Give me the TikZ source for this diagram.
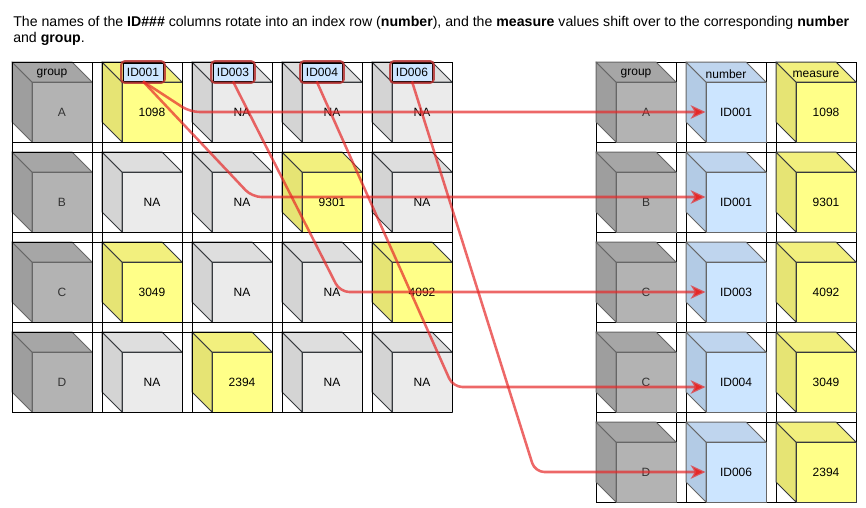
\documentclass[tikz,border=0pt]{standalone}
\usepackage{fontspec}
\setmainfont{Liberation Sans}
\usetikzlibrary{fit}
\usetikzlibrary{arrows.meta}

\definecolor{grpfront}{HTML}{B3B3B3}
\definecolor{grptop}{HTML}{A6A6A6}
\definecolor{grpside}{HTML}{9E9E9E}
\definecolor{grpedge}{HTML}{666666}
\definecolor{grptext}{HTML}{333333}
\definecolor{nafront}{HTML}{EBEBEB}
\definecolor{natop}{HTML}{DEDEDE}
\definecolor{naside}{HTML}{D4D4D4}
\definecolor{naedge}{HTML}{36393D}
\definecolor{natext}{HTML}{000000}
\definecolor{valfront}{HTML}{FFFF88}
\definecolor{valtop}{HTML}{F2F07E}
\definecolor{valside}{HTML}{E6E474}
\definecolor{valedge}{HTML}{36393D}
\definecolor{valtext}{HTML}{000000}
\definecolor{numfront}{HTML}{CCE5FF}
\definecolor{numtop}{HTML}{BFD5EE}
\definecolor{numside}{HTML}{B3CBE5}
\definecolor{numedge}{HTML}{666666}
\definecolor{numtext}{HTML}{000000}
\definecolor{arrowred}{HTML}{E62828}
\definecolor{markred}{HTML}{B83232}

\newcommand{\cubefont}{\fontsize{9}{11}\selectfont}

% cube: x, y, kind, name, top text, face text
\newcommand{\datacube}[6]{%
    \begin{scope}[shift={(#1,#2)}]
        \filldraw[cubeedge, draw=#3edge, fill=#3side] (0,0) -- (20,20) -- (20,80) -- (0,60) -- cycle;
        \filldraw[cubeedge, draw=#3edge, fill=#3top] (0,0) -- (60,0) -- (80,20) -- (20,20) -- cycle;
        \node[cubeface, draw=#3edge, fill=#3front, text=#3text] (#4) at (50,50) {#6};
        \node[toplabel] (#4top) at (40,12) {#5};
    \end{scope}
}

\tikzset{
    cubeedge/.style={line width=0.75pt, line join=round},
    cubeface/.style={line width=0.75pt, minimum width=45pt, minimum height=45pt, inner sep=0pt, font=\cubefont},
    toplabel/.style={inner sep=0pt, font=\cubefont},
    gridline/.style={draw=black, line width=0.75pt},
    idbox/.style={draw=black, fill=numfront, line width=0.6pt, minimum width=30pt, minimum height=13.5pt, inner sep=0pt, font=\cubefont},
    idmark/.style={draw=markred, draw opacity=0.85, line width=1.6pt, rounded corners=2.5pt, inner sep=1pt},
    flow/.style={draw=arrowred, draw opacity=0.7, line width=1.9pt, rounded corners=7pt, -{Stealth[length=11pt, width=10pt, inset=3pt]}},
    caption/.style={align=left, inner sep=0pt, font=\fontsize{10.6}{12}\selectfont}
}

\begin{document}
\begin{tikzpicture}[x=0.75pt, y=-0.75pt]
    \useasboundingbox (0,0) rectangle (866,507);

    \node[caption, anchor=north west] (title) at (13,16) {The names of the \textbf{ID\#\#\#} columns rotate into an index row (\textbf{number}), and the \textbf{measure} values shift over to the corresponding \textbf{number}\\and \textbf{group}.};

    % wide table
    \datacube{12}{62}{grp}{wA}{group}{A}
    \datacube{102}{62}{val}{wA1}{}{1098}
    \datacube{192}{62}{na}{wA3}{}{NA}
    \datacube{282}{62}{na}{wA4}{}{NA}
    \datacube{372}{62}{na}{wA6}{}{NA}

    \datacube{12}{152}{grp}{wB}{}{B}
    \datacube{102}{152}{na}{wB1}{}{NA}
    \datacube{192}{152}{na}{wB3}{}{NA}
    \datacube{282}{152}{val}{wB4}{}{9301}
    \datacube{372}{152}{na}{wB6}{}{NA}

    \datacube{12}{242}{grp}{wC}{}{C}
    \datacube{102}{242}{val}{wC1}{}{3049}
    \datacube{192}{242}{na}{wC3}{}{NA}
    \datacube{282}{242}{na}{wC4}{}{NA}
    \datacube{372}{242}{val}{wC6}{}{4092}

    \datacube{12}{332}{grp}{wD}{}{D}
    \datacube{102}{332}{na}{wD1}{}{NA}
    \datacube{192}{332}{val}{wD3}{}{2394}
    \datacube{282}{332}{na}{wD4}{}{NA}
    \datacube{372}{332}{na}{wD6}{}{NA}

    \foreach \x in {12,102,192,282,372}
        \draw[gridline] (\x,62) -- (\x,412) (\x+80,62) -- (\x+80,412);
    \foreach \y in {62,152,242,332}
        \draw[gridline] (12,\y) -- (452,\y) (12,\y+80) -- (452,\y+80);

    \node[idbox] (id1) at (143,72) {ID001};
    \node[idbox] (id3) at (233,72) {ID003};
    \node[idbox] (id4) at (322,72) {ID004};
    \node[idbox] (id6) at (412,72) {ID006};
    \node[idmark, fit=(id1)] (id1mark) {};
    \node[idmark, fit=(id3)] (id3mark) {};
    \node[idmark, fit=(id4)] (id4mark) {};
    \node[idmark, fit=(id6)] (id6mark) {};

    % long table
    \foreach \x in {596,686,776}
        \draw[gridline] (\x,62) -- (\x,502) (\x+80,62) -- (\x+80,502);
    \foreach \y in {62,152,242,332,422}
        \draw[gridline] (596,\y) -- (856,\y) (596,\y+80) -- (856,\y+80);

    \datacube{596}{62}{grp}{gr1}{group}{A}
    \datacube{686}{62}{num}{num1}{number}{ID001}
    \datacube{776}{62}{val}{ms1}{measure}{1098}

    \datacube{596}{152}{grp}{gr2}{}{B}
    \datacube{686}{152}{num}{num2}{}{ID001}
    \datacube{776}{152}{val}{ms2}{}{9301}

    \datacube{596}{242}{grp}{gr3}{}{C}
    \datacube{686}{242}{num}{num3}{}{ID003}
    \datacube{776}{242}{val}{ms3}{}{4092}

    \datacube{596}{332}{grp}{gr4}{}{C}
    \datacube{686}{332}{num}{num4}{}{ID004}
    \datacube{776}{332}{val}{ms4}{}{3049}

    \datacube{596}{422}{grp}{gr5}{}{D}
    \datacube{686}{422}{num}{num5}{}{ID006}
    \datacube{776}{422}{val}{ms5}{}{2394}

    % id names turn into rows
    \draw[flow] (id1.south) -- (190,112) -- (num1.west);
    \draw[flow] (id1.south) -- (252,197) -- ([yshift=3.75pt]num2.west);
    \draw[flow] (id3.south) -- (340,292) -- (num3.west);
    \draw[flow] ([xshift=-4pt]id4.south) -- (453,387) -- ([yshift=-3.75pt]num4.west);
    \draw[flow] (id6.south) -- (535,472) -- (num5.west);
\end{tikzpicture}
\end{document}
